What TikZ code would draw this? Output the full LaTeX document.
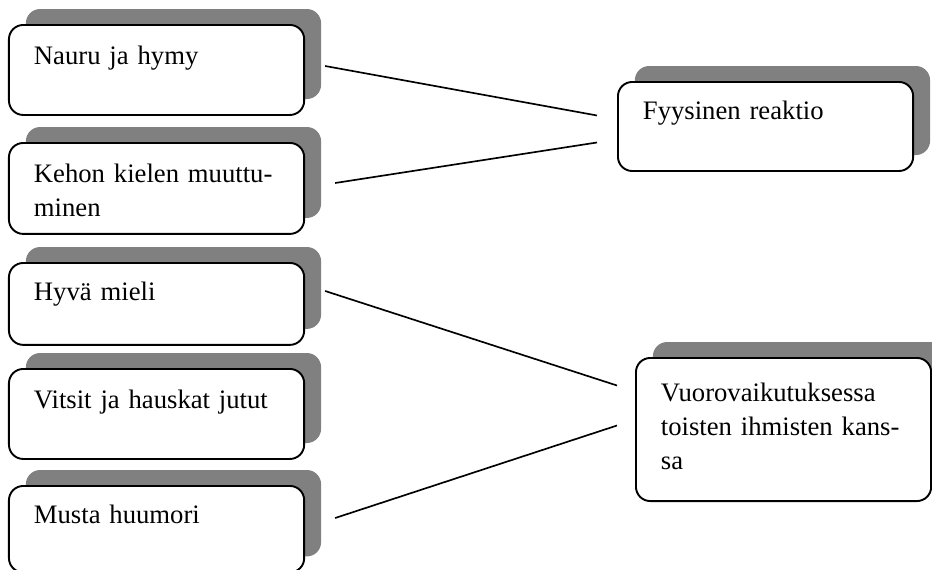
\documentclass[tikz,border=0pt]{standalone}
\usepackage{fontspec}
\setmainfont{Liberation Serif}
\usepackage{xcolor}
\definecolor{ink}{HTML}{000000}
\definecolor{shade}{HTML}{808080}
\usepackage{tikz}
\usetikzlibrary{calc,shadows}
\tikzset{
  ibox/.style={draw=ink,fill=white,line width=0.8pt,rounded corners=6pt,anchor=north west,
    align=left,font=\fontsize{11.2}{14.3}\selectfont,inner xsep=10.5pt,inner ysep=0pt,
    text width=103pt,text height=16.4pt,
    general shadow={draw=none,fill=shade,shadow xshift=7.1pt,shadow yshift=6.7pt}},
  link/.style={draw=ink,line width=0.7pt},
}

\begin{document}
\begin{tikzpicture}[x=0.42pt,y=-0.42pt]
\useasboundingbox (0,0) rectangle (932,569);
\node[ibox,text depth=21.4pt] (nauru) at (8,24) {Nauru ja hymy};
\node[ibox,text depth=21.8pt] (kehon) at (8,142) {Kehon kielen muuttu-\\minen};
\node[ibox,text height=15.6pt,text depth=18.8pt] (hyva) at (8,262) {Hyvä mieli};
\node[ibox,text depth=21.4pt] (vitsit) at (8,368) {Vitsit ja hauskat jutut};
\node[ibox,text height=15.9pt,text depth=20.4pt] (musta) at (8,485) {Musta huumori};
\node[ibox,text height=15.6pt,text depth=21.8pt] (fyys) at (617,81) {Fyysinen reaktio};
\node[ibox,text height=18.1pt,text depth=42pt] (vuoro) at (635,357) {Vuorovaikutuksessa\\toisten ihmisten kans-\\sa};
\draw[link] ($(nauru.north east)+(20,42)$) -- ($(fyys.west)+(-20,-11)$);
\draw[link] ($(kehon.north east)+(30,41)$) -- ($(fyys.west)+(-20,16)$);
\draw[link] ($(hyva.north east)+(20,29)$) -- ($(vuoro.west)+(-18,-44)$);
\draw[link] ($(musta.north east)+(30,33)$) -- ($(vuoro.west)+(-18,-4)$);
\end{tikzpicture}
\end{document}
